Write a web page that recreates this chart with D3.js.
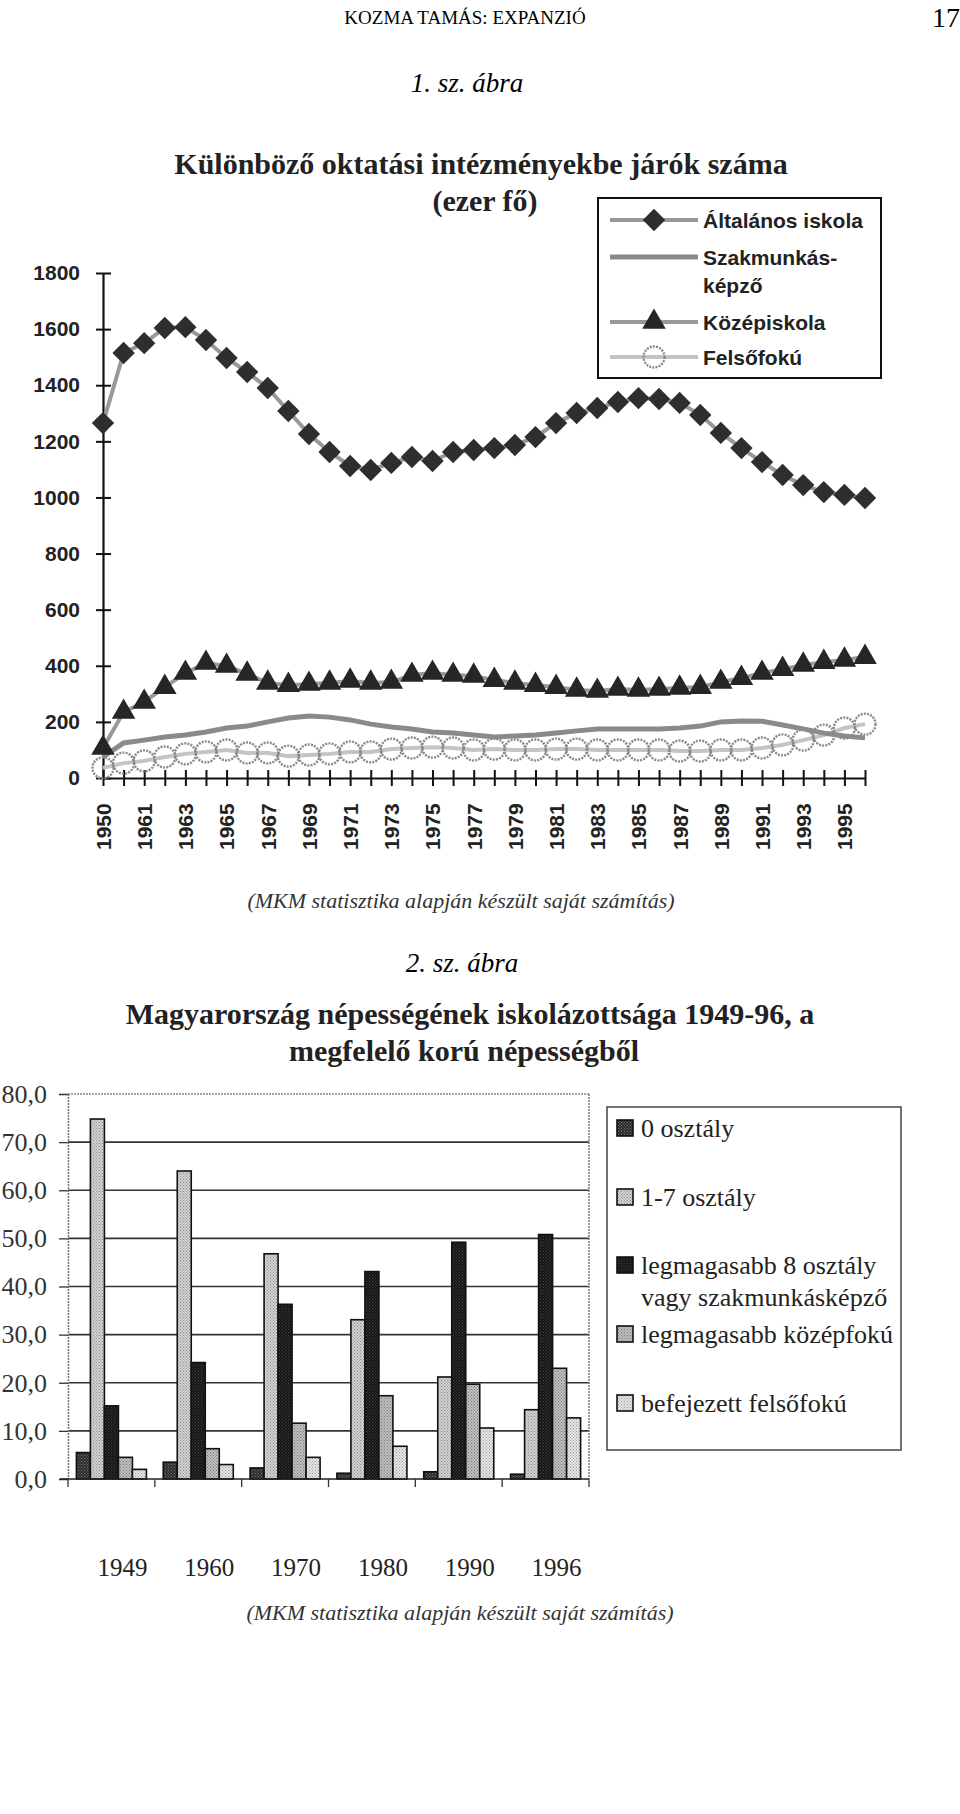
<!DOCTYPE html>
<html>
<head>
<meta charset="utf-8">
<script src="https://cdn.jsdelivr.net/npm/d3@7"></script>
<style>
  html, body { margin: 0; padding: 0; background: #fff; }
  svg { display: block; }
</style>
</head>
<body>
<svg id="page" width="960" height="1814"></svg>
<script>
// ---------- Chart 1 data ----------
const years1 = ["1950","1960","1961","1962","1963","1964","1965","1966","1967","1968","1969","1970",
  "1971","1972","1973","1974","1975","1976","1977","1978","1979","1980","1981","1982","1983","1984",
  "1985","1986","1987","1988","1989","1990","1991","1992","1993","1994","1995","1996"];
const altalanos = [1265,1515,1550,1604,1607,1561,1497,1447,1390,1308,1226,1162,1112,1098,1123,1144,1130,1162,1169,
  1176,1187,1215,1265,1301,1319,1340,1354,1351,1337,1294,1230,1176,1126,1080,1044,1019,1009,998];
const szakmunkas = [75,125,135,146,153,164,178,185,200,214,221,217,207,192,182,175,164,160,153,
  146,150,153,160,168,175,175,175,175,178,185,200,203,202,189,175,160,150,143];
const kozepiskola = [107,235,271,324,374,410,399,371,339,331,335,339,346,339,342,367,374,367,364,
  349,339,331,324,314,310,317,314,317,321,324,342,356,374,388,403,413,421,431];
const felsofoku = [36,53,61,75,86,93,100,89,89,78,82,86,93,93,103,107,110,107,100,
  103,100,100,103,103,100,100,100,100,96,96,100,100,107,118,135,153,178,192];
const yTicks1 = [0,200,400,600,800,1000,1200,1400,1600,1800];

// ---------- Chart 2 data ----------
const years2 = ["1949","1960","1970","1980","1990","1996"];
const seriesNames2 = ["0 osztály","1-7 osztály","legmagasabb 8 osztály vagy szakmunkásképző","legmagasabb középfokú","befejezett felsőfokú"];
const osztaly0   = [5.5, 3.5, 2.3, 1.2, 1.5, 1.0];
const osztaly1_7 = [74.8, 64.0, 46.8, 33.1, 21.2, 14.4];
const osztaly8   = [15.2, 24.2, 36.3, 43.1, 49.2, 50.8];
const kozepfoku  = [4.5, 6.3, 11.6, 17.3, 19.7, 23.0];
const felsofoku2 = [2.0, 3.0, 4.5, 6.8, 10.6, 12.7];
const yTicks2 = [0,10,20,30,40,50,60,70,80];

const svg = d3.select("#page");
const SERIF = "'Liberation Serif', 'Times New Roman', serif";
const SANS = "'Liberation Sans', Arial, sans-serif";

// ---------- patterns ----------
const defs = svg.append("defs");
function stipple(id, bg, dot, size) {
  const p = defs.append("pattern").attr("id", id).attr("patternUnits", "userSpaceOnUse")
    .attr("width", size).attr("height", size);
  p.append("rect").attr("width", size).attr("height", size).attr("fill", bg);
  p.append("rect").attr("width", 1).attr("height", 1).attr("fill", dot);
  p.append("rect").attr("x", size/2).attr("y", size/2).attr("width", 1).attr("height", 1).attr("fill", dot);
}
stipple("p0", "#2b2b2b", "#777", 3);
stipple("p1", "#d2d2d2", "#8a8a8a", 3);
stipple("p2", "#151515", "#444", 3);
stipple("p3", "#c0c0c0", "#777", 3);
stipple("p4", "#e6e6e6", "#9a9a9a", 3);
const fills2 = ["url(#p0)","url(#p1)","url(#p2)","url(#p3)","url(#p4)"];

// ---------- header texts ----------
svg.append("text").attr("x", 465).attr("y", 17).attr("text-anchor", "middle").attr("dominant-baseline", "central")
  .style("font-family", SERIF).style("font-size", "19px").text("KOZMA TAMÁS: EXPANZIÓ");
svg.append("text").attr("x", 960).attr("y", 17).attr("text-anchor", "end").attr("dominant-baseline", "central")
  .style("font-family", SERIF).style("font-size", "28px").text("17");
svg.append("text").attr("x", 467).attr("y", 83).attr("text-anchor", "middle").attr("dominant-baseline", "central")
  .style("font-family", SERIF).style("font-style", "italic").style("font-size", "27px").text("1. sz. ábra");
svg.append("text").attr("x", 481).attr("y", 163).attr("text-anchor", "middle").attr("dominant-baseline", "central")
  .style("font-family", SERIF).style("font-weight", "bold").style("font-size", "30px").attr("fill", "#222")
  .text("Különböző oktatási intézményekbe járók száma");
svg.append("text").attr("x", 485).attr("y", 200).attr("text-anchor", "middle").attr("dominant-baseline", "central")
  .style("font-family", SERIF).style("font-weight", "bold").style("font-size", "30px").attr("fill", "#222")
  .text("(ezer fő)");

// ---------- Chart 1 ----------
const x1 = d3.scalePoint().domain(years1).range([103, 865]);
const y1 = d3.scaleLinear().domain([0, 1800]).range([778, 273]);
const c1 = svg.append("g");

// y axis
const yAx = c1.append("g").attr("transform", "translate(103,0)")
  .call(d3.axisLeft(y1).tickValues(yTicks1).tickSize(0).tickPadding(23).tickFormat(d3.format("d")));
yAx.select(".domain").attr("stroke", "#111").attr("stroke-width", 2.2);
yAx.selectAll(".tick line").attr("x1", -7).attr("x2", 8).attr("stroke", "#111").attr("stroke-width", 2);
yAx.selectAll(".tick text").style("font-family", SANS).style("font-weight", "bold").style("font-size", "21px").attr("fill", "#222");

// x axis
const xAx = c1.append("g").attr("transform", "translate(0,778)")
  .call(d3.axisBottom(x1).tickSize(0).tickFormat((d, i) => (i % 2 === 0 ? d : "")));
xAx.select(".domain").attr("stroke", "#111").attr("stroke-width", 2.2);
xAx.selectAll(".tick line").attr("y1", -8).attr("y2", 8).attr("stroke", "#111").attr("stroke-width", 2);
xAx.selectAll(".tick text")
  .attr("y", 0).attr("dy", "0.35em").attr("x", 0)
  .attr("text-anchor", "start")
  .attr("transform", "translate(0,72) rotate(-90)")
  .style("font-family", SANS).style("font-weight", "bold").style("font-size", "21px").attr("fill", "#222");

const line1 = vals => d3.line().x((d, i) => x1(years1[i])).y(d => y1(d))(vals);

// Felsőfokú
c1.append("path").attr("d", line1(felsofoku)).attr("fill", "none").attr("stroke", "#c4c4c4").attr("stroke-width", 4);
c1.append("g").selectAll("circle").data(felsofoku).join("circle")
  .attr("cx", (d, i) => x1(years1[i])).attr("cy", d => y1(d)).attr("r", 10.5)
  .attr("fill", "none").attr("stroke", "#8a8a8a").attr("stroke-width", 2.4).attr("stroke-dasharray", "2,1.2");

// Szakmunkásképző
c1.append("path").attr("d", line1(szakmunkas)).attr("fill", "none").attr("stroke", "#8a8a8a").attr("stroke-width", 5);

// Középiskola
c1.append("path").attr("d", line1(kozepiskola)).attr("fill", "none").attr("stroke", "#999").attr("stroke-width", 4);
c1.append("g").selectAll("path").data(kozepiskola).join("path")
  .attr("d", d3.symbol().type(d3.symbolTriangle).size(240))
  .attr("transform", (d, i) => `translate(${x1(years1[i])},${y1(d)})`)
  .attr("fill", "#262626");

// Általános iskola
c1.append("path").attr("d", line1(altalanos)).attr("fill", "none").attr("stroke", "#999").attr("stroke-width", 4);
c1.append("g").selectAll("path").data(altalanos).join("path")
  .attr("d", d3.symbol().type(d3.symbolSquare).size(250))
  .attr("transform", (d, i) => `translate(${x1(years1[i])},${y1(d)}) rotate(45)`)
  .attr("fill", "#2e2e2e");

// legend 1
const lg1 = c1.append("g");
lg1.append("rect").attr("x", 598).attr("y", 198).attr("width", 283).attr("height", 180)
  .attr("fill", "#fff").attr("stroke", "#111").attr("stroke-width", 2);
const lgRows = [
  {y: 220, lines: ["Általános iskola"], marker: "diamond", stroke: "#999", w: 4},
  {y: 257, lines: ["Szakmunkás-", "képző"], marker: "none", stroke: "#8a8a8a", w: 5},
  {y: 322, lines: ["Középiskola"], marker: "triangle", stroke: "#999", w: 4},
  {y: 357, lines: ["Felsőfokú"], marker: "circle", stroke: "#c4c4c4", w: 4}
];
lgRows.forEach(r => {
  lg1.append("line").attr("x1", 610).attr("x2", 698).attr("y1", r.y).attr("y2", r.y)
    .attr("stroke", r.stroke).attr("stroke-width", r.w);
  if (r.marker === "diamond") {
    lg1.append("path").attr("d", d3.symbol().type(d3.symbolSquare).size(250))
      .attr("transform", `translate(654,${r.y}) rotate(45)`).attr("fill", "#2e2e2e");
  } else if (r.marker === "triangle") {
    lg1.append("path").attr("d", d3.symbol().type(d3.symbolTriangle).size(240))
      .attr("transform", `translate(654,${r.y})`).attr("fill", "#262626");
  } else if (r.marker === "circle") {
    lg1.append("circle").attr("cx", 654).attr("cy", r.y).attr("r", 10.5).attr("fill", "none")
      .attr("stroke", "#8a8a8a").attr("stroke-width", 2.4).attr("stroke-dasharray", "2,1.2");
  }
  r.lines.forEach((t, k) => {
    lg1.append("text").attr("x", 703).attr("y", r.y + k * 28).attr("dominant-baseline", "central")
      .style("font-family", SANS).style("font-weight", "bold").style("font-size", "21px").attr("fill", "#222").text(t);
  });
});

// caption 1
svg.append("text").attr("x", 461).attr("y", 900).attr("text-anchor", "middle").attr("dominant-baseline", "central")
  .style("font-family", SERIF).style("font-style", "italic").style("font-size", "22px").attr("fill", "#333")
  .text("(MKM statisztika alapján készült saját számítás)");

// ---------- Chart 2 titles ----------
svg.append("text").attr("x", 462).attr("y", 963).attr("text-anchor", "middle").attr("dominant-baseline", "central")
  .style("font-family", SERIF).style("font-style", "italic").style("font-size", "27px").text("2. sz. ábra");
svg.append("text").attr("x", 470).attr("y", 1013).attr("text-anchor", "middle").attr("dominant-baseline", "central")
  .style("font-family", SERIF).style("font-weight", "bold").style("font-size", "30px").attr("fill", "#222")
  .text("Magyarország népességének iskolázottsága 1949-96, a");
svg.append("text").attr("x", 464).attr("y", 1050).attr("text-anchor", "middle").attr("dominant-baseline", "central")
  .style("font-family", SERIF).style("font-weight", "bold").style("font-size", "30px").attr("fill", "#222")
  .text("megfelelő korú népességből");

// ---------- Chart 2 ----------
const x0 = d3.scaleBand().domain(years2).range([68, 589]).padding(0);
const xs = d3.scaleBand().domain(d3.range(seriesNames2.length)).range([0, x0.bandwidth()])
  .paddingInner(0).paddingOuter(0.6);
const y2 = d3.scaleLinear().domain([0, 80]).range([1479, 1094]);
const c2 = svg.append("g");

// gridlines
c2.append("g").selectAll("line").data(yTicks2.filter(d => d > 0 && d < 80)).join("line")
  .attr("x1", 68).attr("x2", 589).attr("y1", d => y2(d)).attr("y2", d => y2(d))
  .attr("stroke", "#333").attr("stroke-width", 1.6);
// frame top & right
c2.append("line").attr("x1", 68).attr("x2", 589).attr("y1", y2(80)).attr("y2", y2(80))
  .attr("stroke", "#888").attr("stroke-width", 1.5).attr("stroke-dasharray", "2,1");
c2.append("line").attr("x1", 589).attr("x2", 589).attr("y1", y2(80)).attr("y2", y2(0))
  .attr("stroke", "#777").attr("stroke-width", 1.5).attr("stroke-dasharray", "2,1");

// y axis
const yAx2 = c2.append("g").attr("transform", "translate(68,0)")
  .call(d3.axisLeft(y2).tickValues(yTicks2).tickSize(9).tickPadding(12)
    .tickFormat(d => d3.format(".1f")(d).replace(".", ",")));
yAx2.select(".domain").attr("stroke", "#777").attr("stroke-width", 1.5).attr("stroke-dasharray", "2,1");
yAx2.selectAll(".tick line").attr("stroke", "#333").attr("stroke-width", 1.3);
yAx2.selectAll(".tick text").style("font-family", SERIF).style("font-size", "26px").attr("fill", "#333");

// bars
const seriesVals2 = [osztaly0, osztaly1_7, osztaly8, kozepfoku, felsofoku2];
seriesVals2.forEach((vals, s) => {
  c2.append("g").selectAll("rect").data(vals).join("rect")
    .attr("x", (d, i) => x0(years2[i]) + xs(s))
    .attr("y", d => y2(d))
    .attr("width", xs.bandwidth())
    .attr("height", d => y2(0) - y2(d))
    .attr("fill", fills2[s]).attr("stroke", "#111").attr("stroke-width", 1.6);
});

// baseline + category ticks
c2.append("line").attr("x1", 60).attr("x2", 589).attr("y1", y2(0)).attr("y2", y2(0))
  .attr("stroke", "#222").attr("stroke-width", 1.6);
c2.append("g").selectAll("line").data(years2.concat(["end"])).join("line")
  .attr("x1", d => d === "end" ? 589 : x0(d)).attr("x2", d => d === "end" ? 589 : x0(d))
  .attr("y1", y2(0)).attr("y2", y2(0) + 8).attr("stroke", "#333").attr("stroke-width", 1.3);

// category labels
const xAx2 = c2.append("g").attr("transform", `translate(11,${y2(0)})`)
  .call(d3.axisBottom(x0).tickSize(0).tickPadding(0));
xAx2.select(".domain").remove();
xAx2.selectAll(".tick text").attr("y", 88).attr("dy", "0.35em")
  .style("font-family", SERIF).style("font-size", "25px").attr("fill", "#222");

// legend 2
const lg2 = c2.append("g");
lg2.append("rect").attr("x", 607).attr("y", 1107).attr("width", 294).attr("height", 343)
  .attr("fill", "#fff").attr("stroke", "#444").attr("stroke-width", 1.5);
const lg2Rows = [
  {y: 1128, lines: ["0 osztály"]},
  {y: 1197, lines: ["1-7 osztály"]},
  {y: 1265, lines: ["legmagasabb 8 osztály", "vagy szakmunkásképző"]},
  {y: 1334, lines: ["legmagasabb középfokú"]},
  {y: 1403, lines: ["befejezett felsőfokú"]}
];
lg2Rows.forEach((r, s) => {
  lg2.append("rect").attr("x", 617).attr("y", r.y - 8).attr("width", 16).attr("height", 16)
    .attr("fill", fills2[s]).attr("stroke", "#111").attr("stroke-width", 1.6);
  r.lines.forEach((t, k) => {
    lg2.append("text").attr("x", 641).attr("y", r.y + k * 32).attr("dominant-baseline", "central")
      .style("font-family", SERIF).style("font-size", "26px").attr("fill", "#222").text(t);
  });
});

// caption 2
svg.append("text").attr("x", 460).attr("y", 1612).attr("text-anchor", "middle").attr("dominant-baseline", "central")
  .style("font-family", SERIF).style("font-style", "italic").style("font-size", "22px").attr("fill", "#333")
  .text("(MKM statisztika alapján készült saját számítás)");
</script>
</body>
</html>
